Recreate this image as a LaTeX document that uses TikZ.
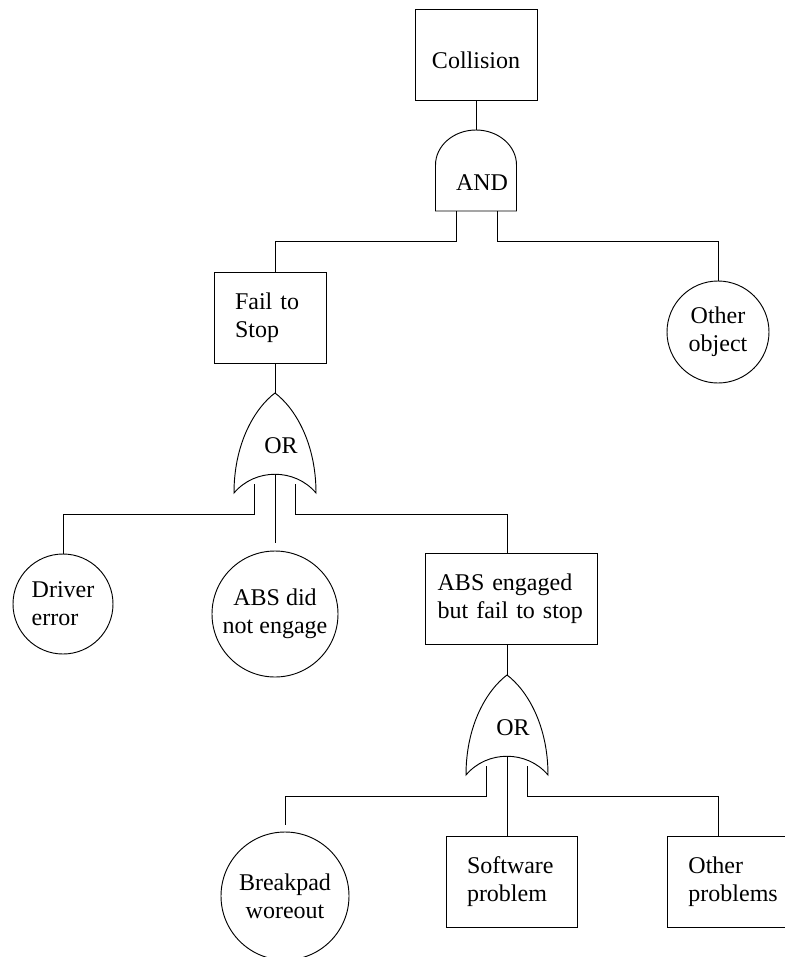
\documentclass[tikz,border=0pt]{standalone}
\usepackage{fontspec}
\setmainfont{Liberation Serif}

\tikzset{
  andgate/.pic={
    \draw (-40.5,81) -- (-40.5,35)
      arc[start angle=180, end angle=0, x radius=30.375pt, y radius=26.25pt]
      -- (40.5,81) -- cycle;
    \coordinate (-out) at (0,0);
    \coordinate (-inl) at (-20,81);
    \coordinate (-inr) at (21,81);
    \node (-txt) at (6,53) {AND};
  },
  orgate/.pic={
    \draw (0,0) .. controls (-20,15) and (-41,50) .. (-41,100)
      .. controls (-20,75) and (20,75) .. (41,100)
      .. controls (41,50) and (20,15) .. (0,0) -- cycle;
    \coordinate (-out) at (0,0);
    \coordinate (-inl) at (-21,91);
    \coordinate (-inm) at (0,81);
    \coordinate (-inr) at (20,91);
    \node (-txt) at (6,53) {OR};
  }
}

\begin{document}
\begin{tikzpicture}[x=0.75pt, y=-0.75pt, line width=0.7pt,
    font=\fontsize{18}{21}\selectfont,
    box/.style={draw, rectangle, align=left, minimum height=68.25pt, inner xsep=15.75pt},
    basic/.style={draw, circle, align=center, inner sep=0pt}]
  \useasboundingbox (0,0) rectangle (785,957);
  % top event
  \node [box, align=center, minimum width=91.5pt, inner xsep=0pt, text height=21pt] (collision) at (476,54.5) {Collision};
  \pic (and1) at (476,130) {andgate};
  % second level
  \node [box, text width=52.5pt] (failstop) at (270,317.5) {Fail to\\Stop};
  \node [basic, minimum size=76.5pt] (other) at (718,332) {Other\\object};
  \pic (or1) at (275,393) {orgate};
  % third level
  \node [basic, align=left, minimum size=75pt] (driver) at (63,604) {Driver\\error};
  \node [basic, minimum size=94.5pt] (absno) at (275,614) {ABS did\\not engage};
  \node [box, text width=110pt, inner xsep=9.5pt] (absyes) at (511,598.5) {ABS engaged\\but fail to stop};
  \pic (or2) at (507,675) {orgate};
  % bottom level
  \node [basic, minimum size=96pt] (breakpad) at (285,896) {Breakpad\\woreout};
  \node [box, text width=66.75pt] (software) at (511.5,881.5) {Software\\problem};
  \node [box, text width=67pt, anchor=west] (otherprob) at (667,881.5) {Other\\problems};
  % connections
  \draw (collision) -- (and1-out);
  \draw (and1-inl) -- ++(0,30) -| ([xshift=3.75pt]failstop.north);
  \draw (and1-inr) -- ++(0,30) -| (other.north);
  \draw ([xshift=3.75pt]failstop.south) -- (or1-out);
  \draw (or1-inl) -- ++(0,30) -| (driver.north);
  \draw [shorten >=6pt] (or1-inm) -- (absno.north);
  \draw (or1-inr) -- ++(0,30) -| ([xshift=-3pt]absyes.north);
  \draw ([xshift=-3pt]absyes.south) -- (or2-out);
  \draw [shorten >=5.25pt] (or2-inl) -- ++(0,30) -| (breakpad.north);
  \draw (or2-inm) -- (or2-inm |- software.north);
  \draw (or2-inr) -- ++(0,30) -| ([xshift=38.25pt]otherprob.north west);
\end{tikzpicture}
\end{document}
